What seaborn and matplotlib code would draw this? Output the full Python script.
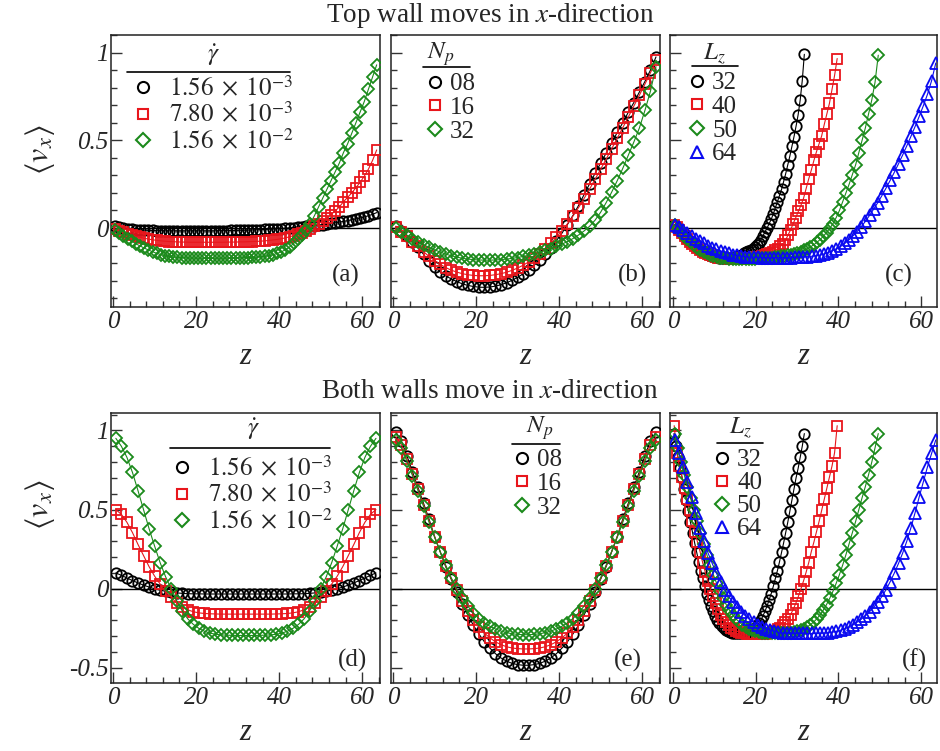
import numpy as np
import matplotlib
matplotlib.use("Agg")
import matplotlib.pyplot as plt
import seaborn as sns
from matplotlib.lines import Line2D
from matplotlib.ticker import MultipleLocator, FixedLocator

# ---------------- data ----------------
# (a) top wall moves, shear-rate series, Lz = 64
a_black = [0.010, 0.005, 0.000, -0.004, -0.007, -0.009, -0.011, -0.012, -0.013, -0.014,
           -0.015, -0.015, -0.016, -0.016, -0.016, -0.016, -0.016, -0.016, -0.016, -0.016,
           -0.016, -0.016, -0.016, -0.016, -0.016, -0.015, -0.015, -0.015, -0.014, -0.014,
           -0.013, -0.013, -0.012, -0.011, -0.010, -0.009, -0.008, -0.007, -0.006, -0.004,
           -0.003, -0.001, 0.001, 0.003, 0.005, 0.007, 0.009, 0.012, 0.014, 0.017,
           0.020, 0.023, 0.026, 0.030, 0.034, 0.038, 0.042, 0.047, 0.052, 0.057,
           0.063, 0.070, 0.078, 0.088]
a_red = [-0.005, -0.015, -0.025, -0.033, -0.040, -0.047, -0.053, -0.058, -0.063, -0.067,
         -0.070, -0.073, -0.075, -0.077, -0.078, -0.079, -0.080, -0.080, -0.081, -0.081,
         -0.081, -0.081, -0.081, -0.081, -0.081, -0.081, -0.081, -0.080, -0.080, -0.080,
         -0.079, -0.079, -0.078, -0.077, -0.076, -0.075, -0.073, -0.071, -0.068, -0.065,
         -0.061, -0.056, -0.050, -0.043, -0.035, -0.026, -0.015, -0.003, 0.010, 0.025,
         0.041, 0.058, 0.077, 0.097, 0.120, 0.150, 0.175, 0.200, 0.230, 0.260,
         0.295, 0.335, 0.385, 0.445]
a_green = [-0.010, -0.030, -0.045, -0.060, -0.075, -0.090, -0.102, -0.114, -0.125, -0.135,
           -0.144, -0.151, -0.157, -0.162, -0.165, -0.167, -0.169, -0.170, -0.171, -0.171,
           -0.172, -0.172, -0.172, -0.172, -0.172, -0.172, -0.172, -0.171, -0.171, -0.170,
           -0.170, -0.169, -0.168, -0.167, -0.166, -0.164, -0.161, -0.157, -0.152, -0.145,
           -0.136, -0.124, -0.108, -0.088, -0.064, -0.038, -0.010, 0.025, 0.070, 0.120,
           0.170, 0.220, 0.270, 0.320, 0.370, 0.430, 0.480, 0.540, 0.600, 0.660,
           0.720, 0.790, 0.860, 0.930]

# (b) top wall moves, Np series
b_08 = [0.010, -0.015, -0.045, -0.078, -0.110, -0.150, -0.190, -0.222, -0.250, -0.272,
        -0.290, -0.305, -0.318, -0.327, -0.333, -0.337, -0.338, -0.336, -0.331, -0.323,
        -0.312, -0.298, -0.281, -0.261, -0.238, -0.212, -0.182, -0.148, -0.112, -0.072,
        -0.030, 0.020, 0.072, 0.128, 0.190, 0.252, 0.312, 0.370, 0.427, 0.485,
        0.545, 0.600, 0.660, 0.715, 0.775, 0.835, 0.900, 0.975]
b_16 = [0.005, -0.020, -0.048, -0.078, -0.105, -0.135, -0.162, -0.186, -0.207, -0.225,
        -0.240, -0.251, -0.260, -0.266, -0.270, -0.272, -0.272, -0.270, -0.266, -0.260,
        -0.252, -0.241, -0.228, -0.212, -0.193, -0.171, -0.146, -0.118, -0.087, -0.053,
        -0.016, 0.024, 0.068, 0.116, 0.168, 0.222, 0.278, 0.335, 0.393, 0.452,
        0.512, 0.572, 0.633, 0.695, 0.757, 0.820, 0.885, 0.955]
b_32 = [0.000, -0.020, -0.040, -0.060, -0.078, -0.095, -0.110, -0.124, -0.137, -0.148,
        -0.158, -0.166, -0.172, -0.177, -0.180, -0.182, -0.183, -0.183, -0.182, -0.180,
        -0.177, -0.173, -0.168, -0.162, -0.155, -0.147, -0.138, -0.128, -0.117, -0.105,
        -0.092, -0.077, -0.060, -0.040, -0.017, 0.010, 0.045, 0.090, 0.145, 0.205,
        0.270, 0.340, 0.415, 0.490, 0.570, 0.670, 0.780, 0.920]

# (c) top wall moves, Lz series
c_32 = [0.020, 0.010, -0.002, -0.015, -0.030, -0.045, -0.058, -0.070, -0.082, -0.093,
        -0.103, -0.112, -0.121, -0.129, -0.136, -0.142, -0.148, -0.153, -0.157, -0.161,
        -0.164, -0.166, -0.168, -0.169, -0.170, -0.170, -0.170, -0.169, -0.168, -0.166,
        -0.165, -0.162, -0.158, -0.152, -0.145, -0.138, -0.131, -0.124, -0.117, -0.108,
        -0.097, -0.085, -0.066, -0.045, -0.022, 0.000, 0.025, 0.050, 0.080, 0.115,
        0.150, 0.185, 0.220, 0.265, 0.310, 0.360, 0.410, 0.465, 0.520, 0.580,
        0.645, 0.730, 0.840, 0.990]
c_40 = [0.020, 0.005, -0.012, -0.030, -0.048, -0.064, -0.079, -0.093, -0.105, -0.116,
        -0.126, -0.135, -0.143, -0.150, -0.156, -0.161, -0.165, -0.168, -0.170, -0.172,
        -0.173, -0.174, -0.174, -0.174, -0.174, -0.174, -0.173, -0.173, -0.172, -0.171,
        -0.170, -0.169, -0.167, -0.164, -0.160, -0.156, -0.150, -0.144, -0.136, -0.127,
        -0.117, -0.105, -0.090, -0.070, -0.040, -0.010, 0.025, 0.060, 0.095, 0.130,
        0.170, 0.225, 0.280, 0.330, 0.385, 0.435, 0.480, 0.525, 0.590, 0.650,
        0.710, 0.790, 0.870, 0.966]
c_50 = [0.020, 0.000, -0.022, -0.043, -0.063, -0.081, -0.097, -0.111, -0.124, -0.135,
        -0.145, -0.153, -0.159, -0.164, -0.168, -0.171, -0.173, -0.174, -0.175, -0.175,
        -0.175, -0.175, -0.175, -0.175, -0.174, -0.174, -0.173, -0.172, -0.171, -0.170,
        -0.169, -0.167, -0.165, -0.162, -0.159, -0.155, -0.151, -0.147, -0.142, -0.136,
        -0.128, -0.119, -0.108, -0.096, -0.082, -0.066, -0.047, -0.026, -0.002, 0.025,
        0.060, 0.100, 0.150, 0.200, 0.250, 0.305, 0.360, 0.430, 0.500, 0.570,
        0.650, 0.730, 0.830, 0.985]
c_64 = [0.020, 0.005, -0.012, -0.030, -0.046, -0.061, -0.075, -0.088, -0.100, -0.111,
        -0.121, -0.130, -0.138, -0.145, -0.151, -0.156, -0.160, -0.163, -0.165, -0.166,
        -0.167, -0.168, -0.168, -0.168, -0.168, -0.168, -0.168, -0.168, -0.168, -0.167,
        -0.166, -0.165, -0.163, -0.161, -0.158, -0.155, -0.148, -0.140, -0.130, -0.118,
        -0.105, -0.088, -0.068, -0.045, -0.020, 0.008, 0.038, 0.072, 0.108, 0.145,
        0.185, 0.228, 0.272, 0.318, 0.366, 0.416, 0.468, 0.522, 0.578, 0.636,
        0.697, 0.762, 0.840, 0.940]

# (d) both walls move, shear-rate series
d_black = [0.10, 0.085, 0.068, 0.052, 0.037, 0.023, 0.011, 0.0, -0.009, -0.016,
           -0.022, -0.026, -0.029, -0.031, -0.032, -0.032, -0.033, -0.033, -0.033, -0.033,
           -0.033, -0.033, -0.033, -0.033, -0.033, -0.033, -0.033, -0.033, -0.033, -0.033,
           -0.033, -0.033, -0.032, -0.032, -0.031, -0.029, -0.026, -0.022, -0.016, -0.009,
           0.0, 0.011, 0.023, 0.037, 0.052, 0.068, 0.085, 0.10]
d_red = [0.50, 0.47, 0.42, 0.355, 0.28, 0.21, 0.14, 0.08, 0.03, -0.015,
         -0.055, -0.09, -0.115, -0.133, -0.145, -0.152, -0.156, -0.158, -0.159, -0.16,
         -0.16, -0.16, -0.16, -0.16, -0.16, -0.16, -0.16, -0.16, -0.16, -0.159,
         -0.158, -0.156, -0.152, -0.145, -0.133, -0.115, -0.09, -0.055, -0.015, 0.03,
         0.08, 0.14, 0.21, 0.28, 0.355, 0.42, 0.47, 0.50]
d_green = [0.95, 0.90, 0.83, 0.735, 0.62, 0.50, 0.38, 0.27, 0.165, 0.075,
           0.0, -0.075, -0.14, -0.19, -0.225, -0.25, -0.268, -0.28, -0.287, -0.291,
           -0.293, -0.294, -0.295, -0.295, -0.295, -0.295, -0.294, -0.293, -0.291, -0.287,
           -0.28, -0.268, -0.25, -0.225, -0.19, -0.14, -0.075, 0.0, 0.075, 0.165,
           0.27, 0.38, 0.50, 0.62, 0.735, 0.83, 0.90, 0.95]

# (e) both walls move, Np series
e_08 = [0.99, 0.935, 0.84, 0.74, 0.64, 0.54, 0.44, 0.33, 0.235, 0.14,
        0.06, -0.02, -0.095, -0.165, -0.23, -0.285, -0.335, -0.375, -0.41, -0.437,
        -0.457, -0.471, -0.479, -0.483, -0.483, -0.479, -0.471, -0.457, -0.437, -0.41,
        -0.375, -0.335, -0.285, -0.23, -0.165, -0.095, -0.02, 0.06, 0.14, 0.235,
        0.33, 0.44, 0.54, 0.64, 0.74, 0.84, 0.935, 0.99]
e_16 = [0.96, 0.91, 0.82, 0.725, 0.63, 0.53, 0.43, 0.33, 0.235, 0.145,
        0.065, -0.01, -0.08, -0.14, -0.195, -0.24, -0.28, -0.31, -0.335, -0.353,
        -0.366, -0.374, -0.378, -0.38, -0.38, -0.378, -0.374, -0.366, -0.353, -0.335,
        -0.31, -0.28, -0.24, -0.195, -0.14, -0.08, -0.01, 0.065, 0.145, 0.235,
        0.33, 0.43, 0.53, 0.63, 0.725, 0.82, 0.91, 0.96]
e_32 = [0.94, 0.89, 0.805, 0.715, 0.62, 0.52, 0.42, 0.325, 0.235, 0.15,
        0.07, 0.0, -0.06, -0.11, -0.153, -0.188, -0.215, -0.237, -0.254, -0.267,
        -0.277, -0.284, -0.288, -0.29, -0.29, -0.288, -0.284, -0.277, -0.267, -0.254,
        -0.237, -0.215, -0.188, -0.153, -0.11, -0.06, 0.0, 0.07, 0.15, 0.235,
        0.325, 0.42, 0.52, 0.62, 0.715, 0.805, 0.89, 0.94]

# (f) both walls move, Lz series
f_32 = [0.98, 0.90, 0.83, 0.76, 0.70, 0.63, 0.56, 0.49, 0.42, 0.355,
        0.29, 0.23, 0.17, 0.115, 0.065, 0.015, -0.03, -0.07, -0.108, -0.142,
        -0.172, -0.198, -0.219, -0.236, -0.25, -0.261, -0.269, -0.275, -0.279, -0.281,
        -0.282, -0.282, -0.282, -0.282, -0.281, -0.279, -0.275, -0.269, -0.261, -0.25,
        -0.236, -0.219, -0.198, -0.172, -0.142, -0.108, -0.07, -0.03, 0.015, 0.065,
        0.115, 0.17, 0.23, 0.29, 0.355, 0.42, 0.49, 0.56, 0.63, 0.70,
        0.76, 0.83, 0.90, 0.98]
f_40 = [1.03, 0.86, 0.775, 0.705, 0.635, 0.565, 0.495, 0.425, 0.36, 0.295,
        0.235, 0.165, 0.105, 0.05, 0.0, -0.048, -0.092, -0.13, -0.163, -0.19,
        -0.212, -0.23, -0.245, -0.257, -0.266, -0.273, -0.278, -0.281, -0.283, -0.284,
        -0.285, -0.285, -0.285, -0.285, -0.284, -0.283, -0.281, -0.278, -0.273, -0.266,
        -0.257, -0.245, -0.23, -0.212, -0.19, -0.163, -0.13, -0.092, -0.048, 0.0,
        0.05, 0.105, 0.165, 0.235, 0.295, 0.36, 0.425, 0.495, 0.565, 0.635,
        0.705, 0.775, 0.86, 1.03]
f_50 = [0.98, 0.89, 0.80, 0.72, 0.645, 0.575, 0.50, 0.425, 0.355, 0.285,
        0.215, 0.15, 0.09, 0.035, -0.015, -0.06, -0.10, -0.135, -0.165, -0.19,
        -0.21, -0.227, -0.241, -0.252, -0.261, -0.268, -0.273, -0.277, -0.279, -0.281,
        -0.282, -0.282, -0.282, -0.282, -0.281, -0.279, -0.277, -0.273, -0.268, -0.261,
        -0.252, -0.241, -0.227, -0.21, -0.19, -0.165, -0.135, -0.10, -0.06, -0.015,
        0.035, 0.09, 0.15, 0.215, 0.285, 0.355, 0.425, 0.50, 0.575, 0.645,
        0.72, 0.80, 0.89, 0.98]
f_64 = [0.94, 0.855, 0.77, 0.675, 0.58, 0.48, 0.385, 0.30, 0.225, 0.16,
        0.10, 0.045, -0.005, -0.048, -0.085, -0.117, -0.145, -0.17, -0.192, -0.211,
        -0.228, -0.242, -0.253, -0.262, -0.269, -0.274, -0.278, -0.28, -0.281, -0.282,
        -0.282, -0.282, -0.282, -0.282, -0.282, -0.281, -0.28, -0.278, -0.274, -0.269,
        -0.262, -0.253, -0.242, -0.228, -0.211, -0.192, -0.17, -0.145, -0.117, -0.085,
        -0.048, -0.005, 0.045, 0.10, 0.16, 0.225, 0.30, 0.385, 0.48, 0.58,
        0.675, 0.77, 0.855, 0.94]

gamma_labels = [r"$1.56\;\times\;10^{-3}$", r"$7.80\;\times\;10^{-3}$", r"$1.56\;\times\;10^{-2}$"]
np_labels = ["08", "16", "32"]
lz_labels = ["32", "40", "50", "64"]
lz_values = [32, 40, 50, 64]
x_ticks = [0, 20, 40, 60]

# ---------------- style ----------------
BLACK, RED, GREEN, BLUE = "#000000", "#e8161c", "#1b8a1b", "#0a0af0"
STY = {"o": 7.5, "s": 7.0, "D": 6.3, "^": 8.0}

sns.set_style("ticks")
plt.rcParams["font.family"] = ["Liberation Serif", "DejaVu Serif"]
plt.rcParams["mathtext.fontset"] = "stix"
plt.rcParams["axes.unicode_minus"] = False
plt.rcParams["axes.linewidth"] = 1.1

W, H = 940, 751
fig = plt.figure(figsize=(W / 100, H / 100), dpi=100)
boxes = {
    "a": (111, 380, 35, 307), "b": (391, 660, 35, 307), "c": (670, 937, 35, 307),
    "d": (111, 380, 413, 683), "e": (391, 660, 413, 683), "f": (670, 937, 413, 683),
}
axes = {}
for k, (x0, x1, y0, y1) in boxes.items():
    axes[k] = fig.add_axes([x0 / W, 1 - y1 / H, (x1 - x0) / W, (y1 - y0) / H])


def frac(k, x, y):
    x0, x1, y0, y1 = boxes[k]
    return (x - x0) / (x1 - x0), (y1 - y) / (y1 - y0)


def draw(ax, L, vals, color, marker):
    n = len(vals)
    z = (np.arange(n) + 0.5) * L / n
    sns.lineplot(x=z, y=vals, ax=ax, color=color, marker=marker, markersize=STY[marker],
                 markerfacecolor="none", markeredgecolor=color, markeredgewidth=1.3,
                 linewidth=0.8, sort=False, estimator=None, zorder=3)


def legend(k, title, labels, specs, hdr, uline, mx, row1, fs, lspace, tpad):
    ax = axes[k]
    fs_px = fs * 100 / 72
    hl = 0.9
    handles = [Line2D([], [], ls="none", marker=m, ms=STY[m] + 0.5, mfc="none", mec=c, mew=1.5)
               for c, m in specs]
    left = mx - hl * fs_px / 2
    top = row1 - 0.41 * fs_px
    lx, ly = frac(k, left, top)
    ax.legend(handles, labels, loc="upper left", bbox_to_anchor=(lx, ly), frameon=False,
              fontsize=fs, handlelength=hl, handletextpad=tpad, labelspacing=lspace,
              borderaxespad=0, borderpad=0)
    hx, hy = frac(k, *hdr)
    ax.text(hx, hy, title, transform=ax.transAxes, ha="center", va="center", fontsize=fs)
    ux0, uy = frac(k, uline[0], uline[2])
    ux1, _ = frac(k, uline[1], uline[2])
    ax.plot([ux0, ux1], [uy, uy], transform=ax.transAxes, color="k", lw=1.2, clip_on=False)


panels = {
    "a": (64, [(a_black, BLACK, "o"), (a_red, RED, "s"), (a_green, GREEN, "D")]),
    "b": (64, [(b_08, BLACK, "o"), (b_16, RED, "s"), (b_32, GREEN, "D")]),
    "c": (None, [(c_32, BLACK, "o"), (c_40, RED, "s"), (c_50, GREEN, "D"), (c_64, BLUE, "^")]),
    "d": (64, [(d_black, BLACK, "o"), (d_red, RED, "s"), (d_green, GREEN, "D")]),
    "e": (64, [(e_08, BLACK, "o"), (e_16, RED, "s"), (e_32, GREEN, "D")]),
    "f": (None, [(f_32, BLACK, "o"), (f_40, RED, "s"), (f_50, GREEN, "D"), (f_64, BLUE, "^")]),
}

for k, (L, series) in panels.items():
    ax = axes[k]
    for j, (vals, color, marker) in enumerate(series):
        Lz = L if L is not None else lz_values[j]
        draw(ax, Lz, vals, color, marker)
    ax.axhline(0, color="black", lw=1.0, zorder=1.5)
    top_row = k in "abc"
    if k in "cf":
        ax.set_xlim(-0.7, 63.8)
    else:
        ax.set_xlim(-0.5, 64.3)
    if top_row:
        ax.set_ylim(-0.45, 1.10)
        ax.set_yticks([0, 0.5, 1], labels=["0", "0.5", "1"], fontstyle="italic", fontsize=18)
    else:
        ax.set_ylim(-0.595, 1.11)
        ax.set_yticks([-0.5, 0, 0.5, 1], labels=["-0.5", "0", "0.5", "1"], fontstyle="italic", fontsize=18)
    ax.set_xticks(x_ticks, labels=[str(t) for t in x_ticks], fontstyle="italic", fontsize=18)
    ax.xaxis.set_minor_locator(MultipleLocator(4))
    ax.yaxis.set_minor_locator(MultipleLocator(0.1))
    ax.tick_params(which="both", direction="in", top=False, right=False, width=1.0, color="#333333")
    ax.tick_params(which="major", length=8, pad=3)
    ax.tick_params(which="minor", length=4)
    ax.tick_params(axis="y", pad=2)
    if k not in "ad":
        ax.tick_params(labelleft=False)
    ax.set_xlabel("z", fontstyle="italic", fontsize=22, labelpad=6)
    ax.set_ylabel("")
    for s in ax.spines.values():
        s.set_color("#222222")
        s.set_visible(True)

# panel letters
letters = {"a": (360, 275), "b": (647, 275), "c": (913, 275),
           "d": (367, 660), "e": (642, 660), "f": (927, 660)}
for k, (x, y) in letters.items():
    fx, fy = frac(k, x, y)
    axes[k].text(fx, fy, f"({k})", transform=axes[k].transAxes, ha="right", va="center", fontsize=18)

# legends
legend("a", r"$\dot{\gamma}$", gamma_labels, [(BLACK, "o"), (RED, "s"), (GREEN, "D")],
       (213, 55), (127, 290, 72), 143, 86, 18, 0.05, 0.6)
legend("b", r"$N_p$", np_labels, [(BLACK, "o"), (RED, "s"), (GREEN, "D")],
       (441, 54), (423, 470, 67), 435, 83, 18, 0.05, 0.15)
legend("c", r"$L_z$", lz_labels, [(BLACK, "o"), (RED, "s"), (GREEN, "D"), (BLUE, "^")],
       (714, 54), (692, 738, 66), 697, 82, 18, 0.05, 0.15)
legend("d", r"$\dot{\gamma}$", gamma_labels, [(BLACK, "o"), (RED, "s"), (GREEN, "D")],
       (253, 429), (170, 330, 448), 182, 466, 18, 0.05, 0.6)
legend("e", r"$N_p$", np_labels, [(BLACK, "o"), (RED, "s"), (GREEN, "D")],
       (540, 428), (512, 560, 444), 522, 459, 18, 0.05, 0.15)
legend("f", r"$L_z$", lz_labels, [(BLACK, "o"), (RED, "s"), (GREEN, "D"), (BLUE, "^")],
       (740, 428), (717, 763, 443), 722, 459, 18, 0.02, 0.15)

# y labels and row titles
fig.text(40 / W, 1 - 150 / H, r"$\langle v_x\rangle$", rotation=90, ha="center", va="center", fontsize=23)
fig.text(40 / W, 1 - 505 / H, r"$\langle v_x\rangle$", rotation=90, ha="center", va="center", fontsize=23)
fig.text(490 / W, 1 - 15 / H, r"Top wall moves in $x$-direction", ha="center", va="center", fontsize=19.5)
fig.text(490 / W, 1 - 392 / H, r"Both walls move in $x$-direction", ha="center", va="center", fontsize=19.5)

fig.savefig("out.png", dpi=100)
